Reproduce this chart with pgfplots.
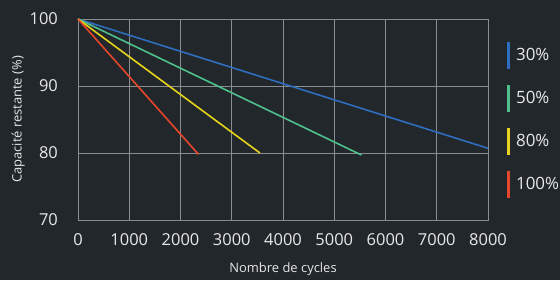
\documentclass[border=0pt]{standalone}
\usepackage{fontspec}
\setmainfont{Open Sans}
\usepackage{pgfplots}
\pgfplotsset{compat=1.18}
\definecolor{bg}{HTML}{21272A}
\definecolor{gridc}{HTML}{8C8C8C}
\definecolor{txt}{HTML}{E8E8E8}
\definecolor{c30}{HTML}{2F6DC0}
\definecolor{c50}{HTML}{4FC08D}
\definecolor{c80}{HTML}{E6D41C}
\definecolor{c100}{HTML}{E8462A}
\begin{document}
\begin{tikzpicture}[x=1bp,y=1bp]
\fill[bg] (0,0) rectangle (560,280);
\useasboundingbox (0,0) rectangle (560,280);
\begin{axis}[
  at={(78bp,60bp)}, anchor=south west,
  scale only axis, width=410bp, height=201bp,
  xmin=0, xmax=8000, ymin=70, ymax=100,
  xtick={0,1000,...,8000}, ytick={70,80,90,100},
  scaled x ticks=false,
  /pgf/number format/1000 sep={},
  /pgf/number format/assume math mode=true,
  grid=major,
  grid style={gridc, line width=0.8bp},
  axis line style={gridc, line width=0.8bp},
  major tick length=0pt,
  ticklabel style={txt, font=\fontsize{16.5}{19}\selectfont},
  xticklabel style={anchor=base, yshift=-25bp},
  yticklabel style={anchor=east, inner sep=0pt, xshift=-20bp},
  xlabel={Nombre de cycles},
  ylabel={Capacité restante (\%)},
  label style={txt, font=\fontsize{13}{15}\selectfont},
  xlabel style={at={(axis description cs:0.5,0)}, anchor=center, yshift=-49bp},
  ylabel style={at={(axis description cs:-0.146,0.5)}, anchor=center},
  clip=false,
  legend style={at={(axis description cs:1.046,0.895)}, anchor=north west,
    draw=none, fill=none, text=txt, font=\fontsize{17}{20}\selectfont,
    row sep=13bp, inner sep=0pt, nodes={inner xsep=6bp}},
  legend cell align=left,
  legend image code/.code={\draw[line width=3bp] (0,-13.5bp) -- (0,13.5bp);},
]
\addplot[c30, line width=1.6bp] coordinates {(0,100) (8000,80.7)};
\addlegendentry{30\%}
\addplot[c50, line width=1.6bp] coordinates {(0,100) (5530,79.7)};
\addlegendentry{50\%}
\addplot[c80, line width=1.6bp] coordinates {(0,100) (3550,80.0)};
\addlegendentry{80\%}
\addplot[c100, line width=1.6bp] coordinates {(0,100) (2350,79.8)};
\addlegendentry{100\%}
\end{axis}
\end{tikzpicture}
\end{document}
